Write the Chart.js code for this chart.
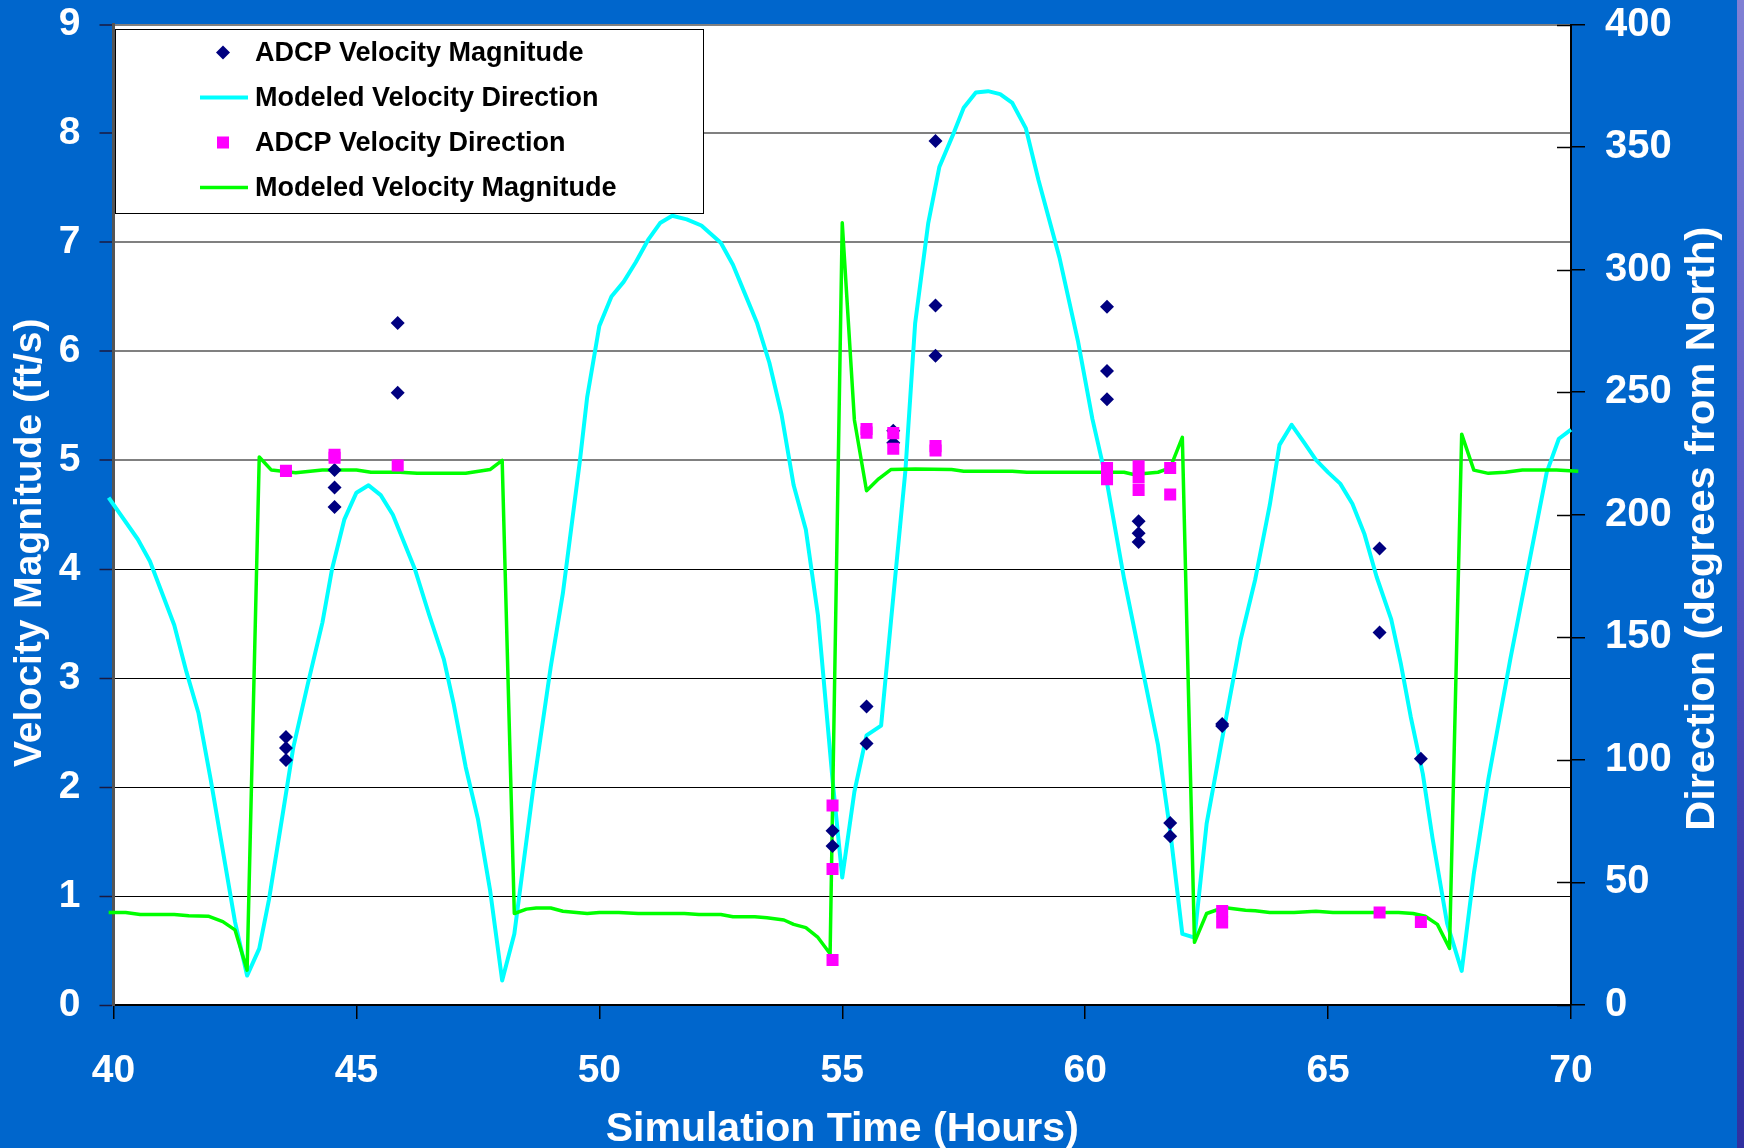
<!DOCTYPE html>
<html>
<head>
<meta charset="utf-8">
<title>ADCP vs Modeled Velocity</title>
<script src="https://cdn.jsdelivr.net/npm/chart.js@4.4.1/dist/chart.umd.min.js"></script>
<style>
  html, body { margin: 0; padding: 0; background: #0066cc; overflow: hidden; }
  #wrap { position: relative; width: 1744px; height: 1148px; }
  #edge {
    position: absolute; top: 0; right: 0; width: 7px; height: 100%;
    background: linear-gradient(#8080d4, #5a5ac4 45%, #3a3aa8 80%, #3030a0);
  }
</style>
</head>
<body>
<div id="wrap">
  <canvas id="velChart"></canvas>
  <div id="edge"></div>
</div>
<script>
// modeled velocity direction (deg from North) -> right axis
const dirModelT = [39.9, 40.5, 40.75, 41.25, 41.5, 41.75, 42.0, 42.5, 42.75, 43.0, 43.2, 43.5, 43.7, 44.0, 44.3, 44.5,
  44.75, 45.0, 45.25, 45.5, 45.75, 46.2, 46.5, 46.8, 47.0, 47.25, 47.5, 47.75, 48.0, 48.25, 48.65, 49.0, 49.25, 49.6,
  49.75, 50.0, 50.25, 50.5, 50.75, 51.0, 51.25, 51.5, 51.8, 52.1, 52.5, 52.75, 53.0, 53.25, 53.5, 53.75, 54.0, 54.25,
  54.5, 54.8, 55.0, 55.25, 55.5, 55.8, 56.0, 56.3, 56.5, 56.77, 57.0, 57.3, 57.5, 57.75, 58.0, 58.25, 58.5, 58.78,
  59.04, 59.47, 59.85, 60.15, 60.45, 60.8, 61.15, 61.5, 61.75, 62.0, 62.25, 62.5, 62.8, 63.2, 63.5, 63.8, 64.0, 64.25,
  64.5, 64.75, 65.0, 65.25, 65.5, 65.75, 66.0, 66.3, 66.5, 66.7, 66.95, 67.15, 67.45, 67.75, 68.0, 68.3, 68.75, 69.15,
  69.5, 69.75, 70.0, 70.15];
const dirModel = [207, 190, 181, 155, 136, 119, 92, 34, 12, 23, 43, 80, 105, 131, 156, 178,
  198, 209, 212, 208, 200, 178, 159, 141, 123, 97, 76, 47, 10, 29, 90, 138, 168, 222,
  248, 277, 289, 295, 303, 312, 319, 322, 320.5, 318, 311, 302, 290, 278, 262, 241, 212, 194,
  159, 92, 52, 87, 110, 114, 156, 218, 278, 319, 342, 356, 366, 372.3, 372.8, 371.6, 368, 357.6,
  336.5, 305, 271, 239, 213, 174, 140, 106, 71, 29, 27.5, 74, 106.5, 149, 173.6, 204, 228.5, 236.7,
  229.6, 222.4, 217.3, 212.7, 204.5, 192, 174.6, 157.3, 139, 117.7, 94.3, 68, 33.3, 13.9, 53.6, 92.2, 141, 181.7,
  217.3, 231, 234.7, 233.6];

// modeled velocity magnitude (ft/s) -> left axis
const magModelT = [39.9, 40.25, 40.55, 41.25, 41.55, 41.95, 42.25, 42.5, 42.75, 43.0, 43.25, 43.75, 44.3, 45.0, 45.3,
  45.9, 46.25, 47.25, 47.75, 48.0, 48.25, 48.5, 48.7, 49.0, 49.25, 49.75, 50.0, 50.4, 50.8, 51.75, 52.05, 52.5, 52.75,
  53.2, 53.45, 53.8, 54.0, 54.25, 54.5, 54.75, 55.0, 55.25, 55.5, 55.75, 56.0, 56.5, 57.25, 57.5, 58.5, 58.8, 60.8,
  61.0, 61.5, 61.75, 62.0, 62.25, 62.5, 62.85, 63.3, 63.5, 63.8, 64.3, 64.75, 65.1, 66.45, 66.75, 67.0, 67.25, 67.5,
  67.75, 68.0, 68.3, 68.65, 69.0, 69.7, 70.15];
const magModel = [0.85, 0.85, 0.83, 0.83, 0.82, 0.815, 0.765, 0.69, 0.32, 5.03, 4.91, 4.885, 4.91, 4.91, 4.89,
  4.89, 4.88, 4.88, 4.915, 5.0, 0.84, 0.88, 0.89, 0.89, 0.86, 0.84, 0.85, 0.85, 0.84, 0.84, 0.83, 0.83, 0.81,
  0.81, 0.80, 0.78, 0.74, 0.71, 0.62, 0.47, 7.18, 5.37, 4.72, 4.83, 4.915, 4.92, 4.915, 4.9, 4.9, 4.89, 4.89,
  4.87, 4.89, 4.93, 5.21, 0.575, 0.84, 0.895, 0.87, 0.865, 0.85, 0.85, 0.86, 0.85, 0.85, 0.84, 0.815, 0.74, 0.52,
  5.24, 4.91, 4.88, 4.89, 4.91, 4.91, 4.9];

// ADCP measured magnitude (ft/s)
const adcpMagT = [43.55, 43.55, 43.55, 44.55, 44.55, 44.55, 45.85, 45.85, 54.8, 54.8, 55.5, 55.5, 56.05, 56.05,
  56.92, 56.92, 56.92, 60.45, 60.45, 60.45, 61.1, 61.1, 61.1, 61.75, 61.75, 62.82, 62.82, 66.06, 66.06, 66.91];
const adcpMag = [2.46, 2.36, 2.25, 4.91, 4.75, 4.57, 6.26, 5.62, 1.60, 1.46, 2.74, 2.40, 5.27, 5.16,
  7.93, 6.42, 5.96, 6.41, 5.82, 5.56, 4.44, 4.33, 4.25, 1.67, 1.55, 2.58, 2.56, 4.19, 3.42, 2.26];

// ADCP measured direction (deg from North)
const adcpDirT = [43.55, 44.55, 44.55, 45.85, 54.8, 54.8, 54.8, 55.5, 55.5, 56.05, 56.05, 56.92, 56.92,
  60.45, 60.45, 61.1, 61.1, 61.1, 61.75, 61.75, 62.82, 62.82, 66.06, 66.91];
const adcpDir = [217.9, 224.5, 223.3, 220.1, 81.4, 55.5, 18.4, 235, 233.5, 233.3, 226.9, 228, 226.2,
  219.1, 214.5, 219.8, 215.2, 210.1, 219.1, 208.3, 38.3, 33.7, 37.7, 33.9];

const FONT = "'Liberation Sans', Arial, 'DejaVu Sans', sans-serif";
const pts = (xs, ys) => xs.map((x, i) => ({ x, y: ys[i] }));

// fixed axis box sizes; drop the label overhang padding so the plot keeps its frame
function fixBox(prop, size) {
  return (s) => {
    s[prop] = size;
    s.paddingTop = 0;
    s.paddingBottom = 0;
    s.paddingLeft = 0;
    s.paddingRight = 0;
  };
}

// white plot area on the blue slide
const plotBg = {
  id: "plotBg",
  beforeDraw(chart) {
    const { ctx, chartArea: a } = chart;
    ctx.save();
    ctx.fillStyle = "#ffffff";
    ctx.fillRect(a.left, a.top, a.right - a.left, a.bottom - a.top);
    ctx.restore();
  },
};

// right axis ticks cross the axis line, add the inner half
const innerTicks = {
  id: "innerTicks",
  beforeDatasetsDraw(chart) {
    const { ctx, chartArea: a } = chart;
    const s = chart.scales.y2;
    ctx.save();
    ctx.strokeStyle = "#000";
    ctx.lineWidth = 1.5;
    s.ticks.forEach(t => {
      const y = Math.round(s.getPixelForValue(t.value)) + 0.5;
      ctx.beginPath();
      ctx.moveTo(a.right - 14, y);
      ctx.lineTo(a.right, y);
      ctx.stroke();
    });
    ctx.restore();
  },
};

// axis titles (the vertical ones sit a bit below center)
const axisTitles = {
  id: "axisTitles",
  afterDraw(chart) {
    const { ctx, chartArea: a } = chart;
    const midY = (a.top + a.bottom) / 2;
    ctx.save();
    ctx.fillStyle = "#ffffff";
    ctx.textAlign = "center";
    ctx.textBaseline = "middle";

    ctx.font = "bold 41px " + FONT;
    ctx.fillText("Simulation Time (Hours)", (a.left + a.right) / 2, a.bottom + 125);

    ctx.save();
    ctx.font = "bold 39px " + FONT;
    ctx.translate(a.left - 83, midY + 28);
    ctx.rotate(-Math.PI / 2);
    ctx.fillText("Velocity Magnitude (ft/s)", 0, 0);
    ctx.restore();

    ctx.save();
    ctx.font = "bold 41.5px " + FONT;
    ctx.translate(a.right + 132, midY + 14);
    ctx.rotate(-Math.PI / 2);
    ctx.fillText("Direction (degrees from North)", 0, 0);
    ctx.restore();

    ctx.restore();
  },
};

function drawMarker(ctx, style, x, y, r, color) {
  ctx.fillStyle = color;
  ctx.beginPath();
  if (style === "rectRot") {
    ctx.moveTo(x, y - r);
    ctx.lineTo(x + r, y);
    ctx.lineTo(x, y + r);
    ctx.lineTo(x - r, y);
  } else {
    const h = r * Math.SQRT1_2;
    ctx.rect(x - h, y - h, 2 * h, 2 * h);
  }
  ctx.closePath();
  ctx.fill();
}

// boxed legend in the upper left of the plot
const boxLegend = {
  id: "boxLegend",
  afterDraw(chart) {
    const { ctx, chartArea: a } = chart;
    const x0 = a.left + 1.5, y0 = a.top + 4.5;
    const w = 588, h = 184;
    ctx.save();
    ctx.fillStyle = "#ffffff";
    ctx.fillRect(x0, y0, w, h);
    ctx.strokeStyle = "#000";
    ctx.lineWidth = 1;
    ctx.strokeRect(Math.round(x0) + 0.5, Math.round(y0) + 0.5, w, h);

    ctx.font = "bold 27px " + FONT;
    ctx.textAlign = "left";
    ctx.textBaseline = "middle";
    chart.data.datasets.forEach((ds, i) => {
      const y = y0 + 23.5 + i * 45;
      const mx = x0 + 108;
      if (ds.showLine) {
        ctx.strokeStyle = ds.borderColor;
        ctx.lineWidth = ds.borderWidth;
        ctx.beginPath();
        ctx.moveTo(x0 + 85, y);
        ctx.lineTo(x0 + 133, y);
        ctx.stroke();
      } else {
        drawMarker(ctx, ds.pointStyle, mx, y, ds.pointRadius, ds.backgroundColor);
      }
      ctx.fillStyle = "#000";
      ctx.fillText(ds.label, x0 + 140, y + 1);
    });
    ctx.restore();
  },
};

const tickFont = { family: FONT, size: 39, weight: "bold" };
const lineClip = { left: 10, right: 10, top: 0, bottom: 0 };

new Chart(document.getElementById("velChart"), {
  type: "scatter",
  data: {
    datasets: [
      {
        label: "ADCP Velocity Magnitude",
        data: pts(adcpMagT, adcpMag),
        yAxisID: "y",
        showLine: false,
        pointStyle: "rectRot",
        pointRadius: 7,
        backgroundColor: "#000080",
        borderWidth: 0,
        order: 2,
      },
      {
        label: "Modeled Velocity Direction",
        data: pts(dirModelT, dirModel),
        yAxisID: "y2",
        showLine: true,
        borderColor: "#00ffff",
        borderWidth: 4,
        borderJoinStyle: "round",
        pointRadius: 0,
        tension: 0,
        clip: lineClip,
        order: 4,
      },
      {
        label: "ADCP Velocity Direction",
        data: pts(adcpDirT, adcpDir),
        yAxisID: "y2",
        showLine: false,
        pointStyle: "rect",
        pointRadius: 8.5,
        backgroundColor: "#ff00ff",
        borderWidth: 0,
        order: 1,
      },
      {
        label: "Modeled Velocity Magnitude",
        data: pts(magModelT, magModel),
        yAxisID: "y",
        showLine: true,
        borderColor: "#00ff00",
        borderWidth: 3.5,
        borderJoinStyle: "round",
        pointRadius: 0,
        tension: 0,
        clip: lineClip,
        order: 3,
      },
    ],
  },
  options: {
    responsive: true,
    maintainAspectRatio: false,
    animation: false,
    events: [],
    layout: { padding: { top: 24.5, left: 0, right: 0, bottom: 0 } },
    plugins: {
      legend: { display: false },
      tooltip: { enabled: false },
    },
    scales: {
      x: {
        type: "linear",
        position: "bottom",
        min: 40,
        max: 70,
        afterFit: fixBox("height", 143),
        ticks: { stepSize: 5, color: "#ffffff", font: tickFont, padding: 29, maxRotation: 0 },
        grid: { drawOnChartArea: false, color: "#000", tickLength: 14, lineWidth: 1.5 },
        border: { color: "#000", width: 2 },
      },
      y: {
        type: "linear",
        position: "left",
        min: 0,
        max: 9,
        afterFit: fixBox("width", 113.5),
        ticks: { stepSize: 1, color: "#ffffff", font: tickFont, padding: 19 },
        grid: {
          color: (c) => (c.tick && c.tick.value >= 5 ? "#808080" : "#000"),
          lineWidth: (c) => (c.tick && c.tick.value >= 5 ? 2 : 1),
          tickColor: "#1a1a40",
          tickWidth: 1.5,
          tickLength: 14,
        },
        border: { color: "#555", width: 3 },
      },
      y2: {
        type: "linear",
        position: "right",
        min: 0,
        max: 400,
        afterFit: fixBox("width", 173),
        ticks: { stepSize: 50, color: "#ffffff", font: { family: FONT, size: 40, weight: "bold" }, padding: 20 },
        grid: { drawOnChartArea: false, color: "#000", tickLength: 14, lineWidth: 1.5 },
        border: { color: "#000", width: 2 },
      },
    },
  },
  plugins: [plotBg, innerTicks, axisTitles, boxLegend],
});
</script>
</body>
</html>
